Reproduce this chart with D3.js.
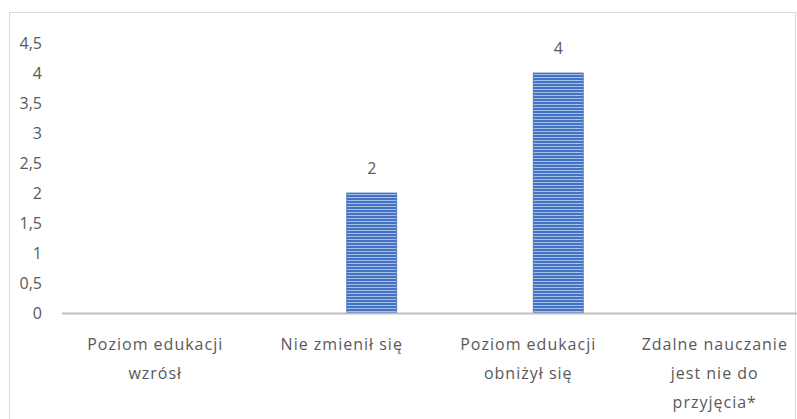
<!DOCTYPE html>
<html>
<head>
<meta charset="utf-8">
<script src="https://cdn.jsdelivr.net/npm/d3@7"></script>
<style>
  body { margin: 0; background: #fff; }
  text { font-family: "Open Sans", "Noto Sans", sans-serif; fill: #595959; }
</style>
</head>
<body>
<svg id="chart" width="797" height="419"></svg>
<script>
// chart data
var categories = [
  ["Poziom edukacji", "wzrósł"],
  ["Nie zmienił się"],
  ["Poziom edukacji", "obniżył się"],
  ["Zdalne nauczanie", "jest nie do", "przyjęcia*"]
];
var values = [0, 2, 4, 0];
var yTicks = [0, 0.5, 1, 1.5, 2, 2.5, 3, 3.5, 4, 4.5];

var svg = d3.select('#chart');

// frame of the chart area (runs off to the right and bottom)
svg.append('rect')
  .attr('x', 9.5).attr('y', 12.5)
  .attr('width', 786).attr('height', 420)
  .attr('fill', '#fff').attr('stroke', '#d9d9d9').attr('stroke-width', 1);

// horizontal stripe pattern for the bars
var defs = svg.append('defs');
var pat = defs.append('pattern')
  .attr('id', 'stripes')
  .attr('patternUnits', 'userSpaceOnUse')
  .attr('width', 4).attr('height', 3);
pat.append('rect').attr('width', 4).attr('height', 3).attr('fill', '#4472c4');
pat.append('rect').attr('y', 2).attr('width', 4).attr('height', 1).attr('fill', '#a9bfe6');

// category slots
var x = d3.scaleBand()
  .domain(d3.range(categories.length))
  .range([62, 808]);

// bar sits a little right of its category centre (clustered layout)
var barW = 50, barShift = 5;
function barX(i) { return x(i) + x.bandwidth() / 2 + barShift; }

var y = d3.scaleLinear().domain([0, 4.5]).range([313, 43]);

// y axis labels (no axis line)
var yAxis = d3.axisLeft(y)
  .tickValues(yTicks)
  .tickSize(0)
  .tickPadding(0)
  .tickFormat(function(d) { return String(d).replace('.', ','); });
var yg = svg.append('g').attr('transform', 'translate(42,0)').call(yAxis);
yg.select('.domain').remove();
yg.selectAll('text').style('font-size', '16px').attr('fill', '#595959').attr('font-family', null);

// bars
svg.selectAll('.bar')
  .data(values)
  .enter().append('rect')
  .attr('class', 'bar')
  .attr('x', function(d, i) { return barX(i); })
  .attr('y', function(d) { return y(d); })
  .attr('width', barW)
  .attr('height', function(d) { return y(0) - y(d); })
  .attr('fill', 'url(#stripes)')
  .attr('stroke', '#4472c4')
  .attr('stroke-width', 0.8);

// value labels on non-zero bars
svg.selectAll('.val')
  .data(values.map(function(v, i) { return { v: v, i: i }; }).filter(function(d) { return d.v > 0; }))
  .enter().append('text')
  .attr('class', 'val')
  .attr('x', function(d) { return barX(d.i) + barW / 2; })
  .attr('y', function(d) { return y(d.v) - 19; })
  .attr('text-anchor', 'middle')
  .style('font-size', '16px')
  .text(function(d) { return d.v; });

// x axis line
svg.append('line')
  .attr('x1', 62).attr('x2', 797)
  .attr('y1', 313.5).attr('y2', 313.5)
  .attr('stroke', '#bfbfbf').attr('stroke-width', 2);

// category labels
svg.selectAll('.cat')
  .data(categories)
  .enter().append('text')
  .attr('class', 'cat')
  .attr('text-anchor', 'middle')
  .style('font-size', '16px')
  .style('letter-spacing', '1px')
  .each(function(lines, i) {
    var t = d3.select(this);
    var cx = x(i) + x.bandwidth() / 2;
    lines.forEach(function(l, k) {
      t.append('tspan').attr('x', cx).attr('y', 350 + k * 29).text(l);
    });
  });
</script>
</body>
</html>
